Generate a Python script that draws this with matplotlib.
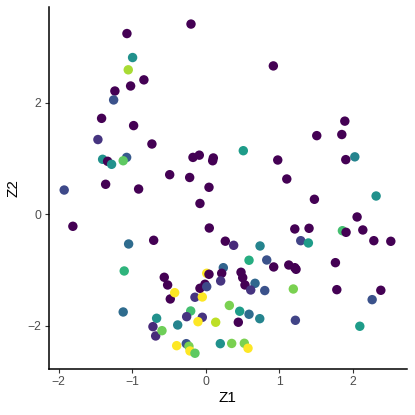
import matplotlib
matplotlib.use("Agg")
import matplotlib.pyplot as plt

plt.rcParams['font.family'] = ['Liberation Sans', 'DejaVu Sans']

# Z1, Z2 coordinates and colour value (0 = dark purple, 1 = yellow)
z1 = [-0.200, -1.072, -0.995, -1.054, -0.841, -1.022, -1.236, -1.253, -1.417, -0.981,
      -1.467, -0.732, -1.403, -1.335, -1.281, -1.076, -1.123, -0.173, -0.087, 0.104,
      0.095, -0.490, -0.218, 0.045, -1.362, -0.913, -1.926, 0.921, 1.894, 1.512,
      1.853, 0.512, 2.030, 1.907, 0.981, 1.104, -0.078, -1.808, 0.049, -0.708,
      0.267, -1.049, -1.109, -0.564, -0.518, -0.482, -0.422, -0.146, -0.046, -0.078,
      0.014, -0.010, 0.014, 0.045, 0.240, 0.218, 0.204, 0.481, 0.504, 0.672,
      0.535, 0.613, 0.322, 0.381, 0.740, 0.590, 0.831, 0.926, 1.131, 1.213,
      1.230, 1.766, 0.804, 1.193, 1.785, 2.384, 2.266, 1.480, 2.320, 1.213,
      1.407, 1.861, 1.911, 2.061, 2.139, 2.289, 2.520, 1.294, 1.398, 0.463,
      0.590, 0.736, 0.444, 0.136, 1.221, 2.098, 0.199, 0.354, 0.526, 0.576,
      -0.668, -0.718, -0.681, -0.595, -0.381, -0.204, -0.259, -0.046, -0.105, -0.395,
      -0.264, -0.228, -0.214, -0.146, -1.123]
z2 = [3.41, 3.24, 2.81, 2.59, 2.41, 2.30, 2.21, 2.05, 1.72, 1.59,
      1.34, 1.26, 0.986, 0.95, 0.896, 1.02, 0.96, 1.02, 1.06, 1.01,
      0.96, 0.71, 0.66, 0.484, 0.538, 0.453, 0.435, 2.66, 1.67, 1.41,
      1.43, 1.14, 1.03, 0.98, 0.973, 0.633, 0.194, -0.215, -0.246, -0.466,
      -0.482, -0.532, -1.016, -1.129, -1.267, -1.518, -1.405, -1.487, -1.482, -1.326,
      -1.057, -1.254, -1.297, -1.075, -0.957, -1.057, -1.195, -1.039, -1.136, -1.237,
      -1.267, -1.357, -1.634, -0.556, -0.568, -0.824, -0.819, -0.944, -0.909, -0.957,
      -0.986, -0.867, -1.367, -1.339, -1.351, -1.362, -1.530, 0.269, 0.328, -0.263,
      -0.251, -0.294, -0.323, -0.048, -0.281, -0.473, -0.484, -0.473, -0.514, -1.738,
      -1.792, -1.871, -1.935, -1.935, -1.900, -2.007, -2.319, -2.315, -2.312, -2.401,
      -1.864, -2.014, -2.181, -2.086, -1.984, -1.733, -1.835, -1.846, -1.925, -2.355,
      -2.319, -2.366, -2.450, -2.491, -1.751]
col = [0, 0, 0.5, 0.87, 0, 0, 0, 0.25, 0, 0,
       0.15, 0, 0.5, 0, 0.5, 0.28, 0.75, 0, 0, 0,
       0, 0, 0, 0, 0, 0, 0.22, 0, 0, 0,
       0, 0.55, 0.45, 0, 0, 0, 0, 0, 0, 0,
       0, 0.35, 0.65, 0, 0, 0, 1, 0.15, 1, 0,
       1, 0, 0.22, 0, 0.32, 0, 0.15, 0, 0, 0.33,
       0, 0.15, 0.8, 0.12, 0.45, 0.62, 0.25, 0, 0, 0,
       0, 0, 0.25, 0.8, 0, 0, 0.25, 0, 0.5, 0,
       0, 0.7, 0, 0, 0, 0, 0, 0.2, 0.55, 0.55,
       0.35, 0.45, 0, 0.9, 0.2, 0.55, 0.5, 0.8, 0.8, 1,
       0.5, 0.12, 0.12, 0.78, 0.45, 0.7, 0.15, 0.15, 1, 1,
       0.25, 0.8, 1, 0.75, 0.35]

fig = plt.figure(figsize=(4.15, 4.15), dpi=100)
ax = fig.add_axes([0.117, 0.111, 0.864, 0.872])
ax.scatter(z1, z2, c=col, cmap='viridis', vmin=0, vmax=1, s=46, linewidths=0)

ax.set_xlim(-2.139, 2.742)
ax.set_ylim(-2.772, 3.715)
ax.set_xticks([-2, -1, 0, 1, 2])
ax.set_yticks([-2, 0, 2])
ax.set_xticklabels(['\u22122', '\u22121', '0', '1', '2'])
ax.set_yticklabels(['\u22122', '0', '2'])
for s in ['top', 'right']:
    ax.spines[s].set_visible(False)
for s in ['left', 'bottom']:
    ax.spines[s].set_linewidth(1.1)
    ax.spines[s].set_color('black')
ax.tick_params(length=3, width=0.8, color='#333333', labelcolor='#4d4d4d',
               labelsize=8.8, pad=2)
ax.set_xlabel('Z1', fontsize=11, labelpad=2)
ax.set_ylabel('Z2', fontsize=11, labelpad=5)

fig.savefig('out.png', dpi=100)
